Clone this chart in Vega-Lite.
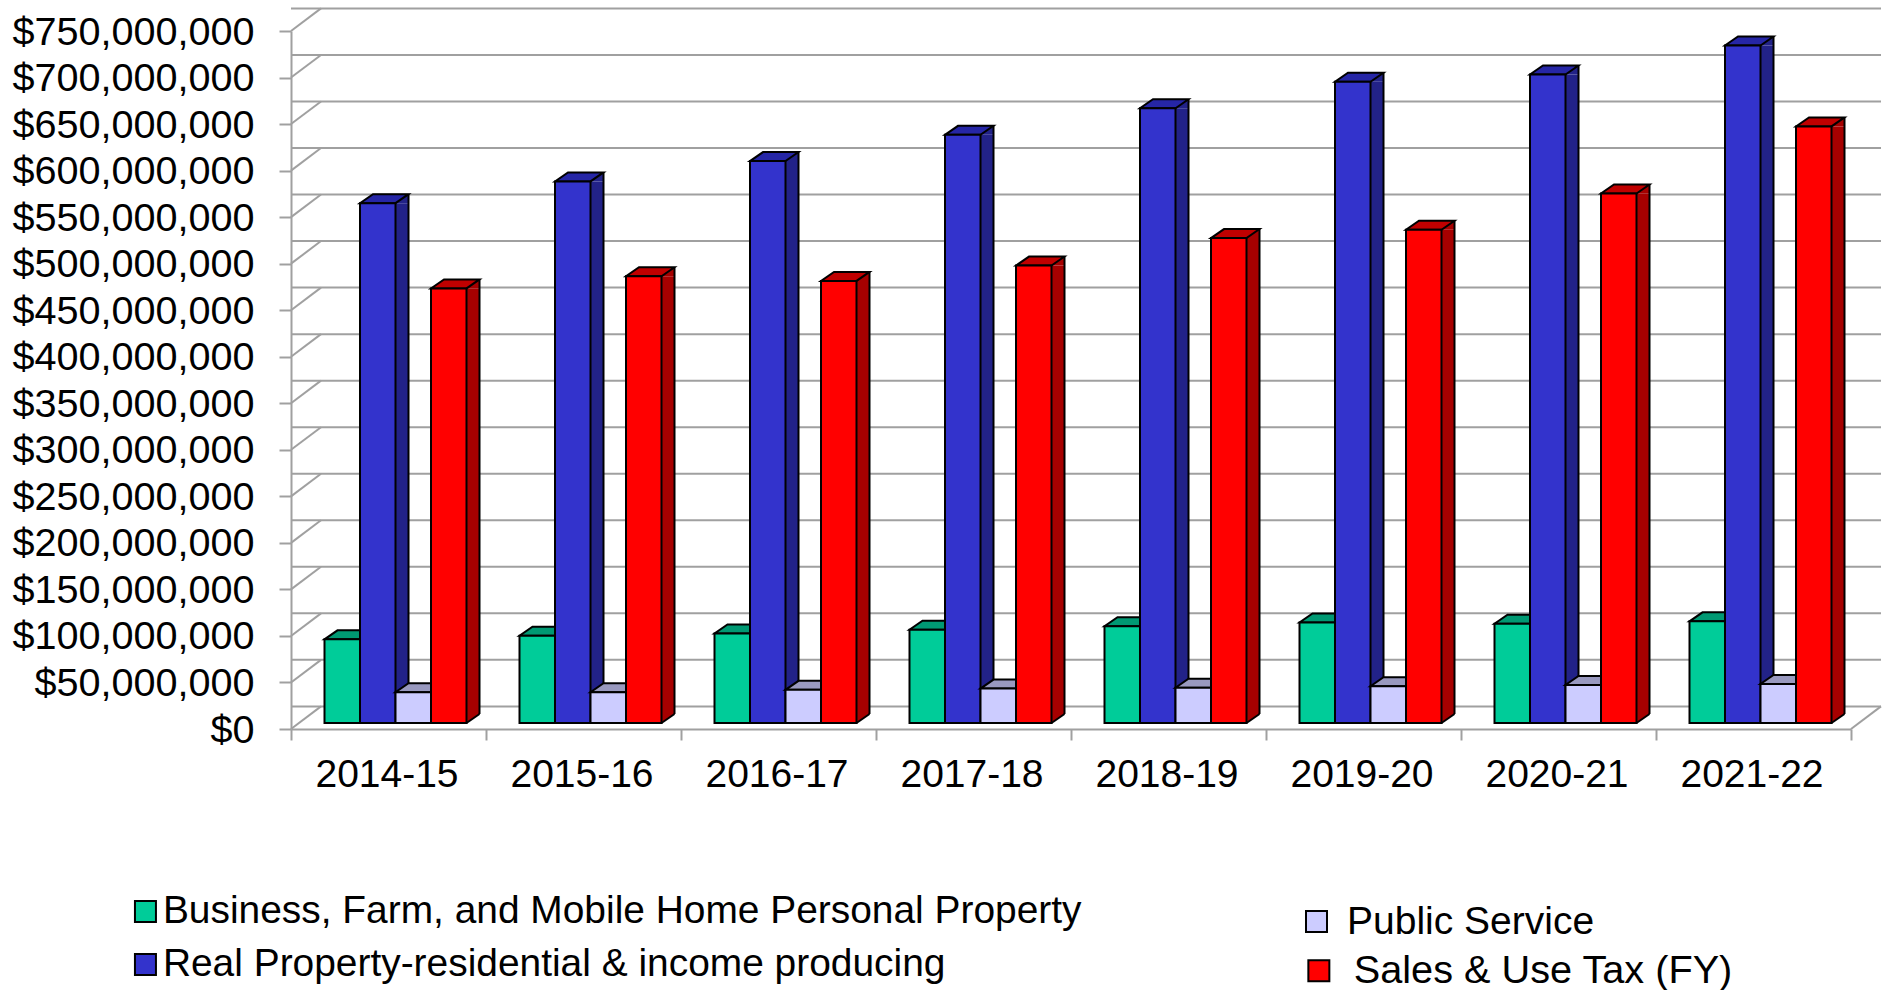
{
"$schema":"https://vega.github.io/schema/vega-lite/v6.json",
"width":1560,"height":698,
"autosize":{"type":"none"},
"padding":{"left":291,"top":31,"right":34,"bottom":261},
"background":"white",
"config":{"view":{"stroke":null},"font":"Liberation Sans"},
"datasets":{
"ticks":[{"tick":0},{"tick":50000000},{"tick":100000000},{"tick":150000000},{"tick":200000000},{"tick":250000000},{"tick":300000000},{"tick":350000000},{"tick":400000000},{"tick":450000000},{"tick":500000000},{"tick":550000000},{"tick":600000000},{"tick":650000000},{"tick":700000000},{"tick":750000000}],
"bars":[
{"year":"2014-15","series":"Business, Farm, and Mobile Home Personal Property","value":89900000},
{"year":"2015-16","series":"Business, Farm, and Mobile Home Personal Property","value":93700000},
{"year":"2016-17","series":"Business, Farm, and Mobile Home Personal Property","value":96300000},
{"year":"2017-18","series":"Business, Farm, and Mobile Home Personal Property","value":100200000},
{"year":"2018-19","series":"Business, Farm, and Mobile Home Personal Property","value":104000000},
{"year":"2019-20","series":"Business, Farm, and Mobile Home Personal Property","value":108000000},
{"year":"2020-21","series":"Business, Farm, and Mobile Home Personal Property","value":106700000},
{"year":"2021-22","series":"Business, Farm, and Mobile Home Personal Property","value":109200000},
{"year":"2014-15","series":"Real Property-residential & income producing","value":558600000},
{"year":"2015-16","series":"Real Property-residential & income producing","value":581900000},
{"year":"2016-17","series":"Real Property-residential & income producing","value":603800000},
{"year":"2017-18","series":"Real Property-residential & income producing","value":632000000},
{"year":"2018-19","series":"Real Property-residential & income producing","value":660600000},
{"year":"2019-20","series":"Real Property-residential & income producing","value":689000000},
{"year":"2020-21","series":"Real Property-residential & income producing","value":696800000},
{"year":"2021-22","series":"Real Property-residential & income producing","value":728000000},
{"year":"2014-15","series":"Public Service","value":33000000},
{"year":"2015-16","series":"Public Service","value":33000000},
{"year":"2016-17","series":"Public Service","value":35600000},
{"year":"2017-18","series":"Public Service","value":37000000},
{"year":"2018-19","series":"Public Service","value":38000000},
{"year":"2019-20","series":"Public Service","value":39500000},
{"year":"2020-21","series":"Public Service","value":40800000},
{"year":"2021-22","series":"Public Service","value":42000000},
{"year":"2014-15","series":"Sales & Use Tax (FY)","value":467000000},
{"year":"2015-16","series":"Sales & Use Tax (FY)","value":480000000},
{"year":"2016-17","series":"Sales & Use Tax (FY)","value":475000000},
{"year":"2017-18","series":"Sales & Use Tax (FY)","value":491500000},
{"year":"2018-19","series":"Sales & Use Tax (FY)","value":521000000},
{"year":"2019-20","series":"Sales & Use Tax (FY)","value":530000000},
{"year":"2020-21","series":"Sales & Use Tax (FY)","value":569000000},
{"year":"2021-22","series":"Sales & Use Tax (FY)","value":641000000}
]},
"resolve":{"scale":{"color":"independent"}},
"layer":[
{"data":{"name":"ticks"},
 "mark":{"type":"rule","color":"#A0A0A0","strokeWidth":2,"xOffset":30,"x2Offset":30,"yOffset":-22.6},
 "encoding":{"y":{"field":"tick","type":"quantitative","scale":{"domain":[0,750000000],"nice":false},
   "axis":{"title":null,"values":[0,50000000,100000000,150000000,200000000,250000000,300000000,350000000,400000000,450000000,500000000,550000000,600000000,650000000,700000000,750000000],"format":"$,.0f","grid":false,"labelFont":"Liberation Sans","labelFontSize":39.6,"labelColor":"#000000","labelLimit":400,"labelPadding":25,"labelOffset":1,"labelOverlap":false,"labelBound":false,"labelFlush":false,"tickSize":12,"tickColor":"#A0A0A0","tickWidth":2,"domainColor":"#A0A0A0","domainWidth":2}}}},
{"data":{"name":"ticks"},
 "mark":{"type":"point","shape":"M-97.5,0 L-67.5,-22.6","size":4,"filled":false,"fill":null,"stroke":"#A0A0A0","strokeWidth":2,"opacity":1},
 "encoding":{"x":{"datum":"2014-15","type":"nominal","scale":{"paddingInner":0,"paddingOuter":0},
   "axis":{"title":null,"labelAngle":0,"grid":false,"tickBand":"extent","tickOffset":-1.5,"labelOffset":-2,"labelFont":"Liberation Sans","labelFontSize":39,"labelColor":"#000000","labelPadding":15,"tickSize":11,"tickColor":"#A0A0A0","tickWidth":2,"domainColor":"#A0A0A0","domainWidth":2}},
  "y":{"field":"tick","type":"quantitative","title":null,"scale":{"domain":[0,750000000],"nice":false}}}},
{"data":{"values":[{"tick":0}]},
 "mark":{"type":"point","shape":"M97.5,0 L127.5,-22.6","size":4,"filled":false,"fill":null,"stroke":"#A0A0A0","strokeWidth":2,"opacity":1},
 "encoding":{"x":{"datum":"2021-22","type":"nominal","title":null},
  "y":{"field":"tick","type":"quantitative","title":null,"scale":{"domain":[0,750000000],"nice":false}}}},
{"data":{"name":"bars"},
 "transform":[{"filter":"datum.series === 'Business, Farm, and Mobile Home Personal Property'"}],
 "encoding":{
  "x":{"field":"year","type":"nominal","title":null},
  "y":{"field":"value","type":"quantitative","title":null,"scale":{"domain":[0,750000000],"nice":false}}},
 "layer":[
  {"mark":{"type":"point","shape":"M-17.75,0 L17.75,0 L30.75,-9 L-4.75,-9 Z","size":4,"filled":true,"fill":"#009973","stroke":"#000000","strokeWidth":2,"opacity":1,"xOffset":-46.25,"yOffset":-6}},
  {"mark":{"type":"bar","size":35.5,"stroke":"#000000","strokeWidth":2,"xOffset":-46.25,"yOffset":-6,"y2Offset":-6},
   "encoding":{"y2":{"datum":0},
    "color":{"field":"series","type":"nominal","scale":{"domain":["Business, Farm, and Mobile Home Personal Property"],"range":["#00CC99"]},
     "legend":{"title":null,"orient":"none","legendX":-165,"legendY":861,"padding":0,"symbolType":"square","symbolSize":441,"symbolStrokeColor":"#000000","symbolStrokeWidth":2,"labelFont":"Liberation Sans","labelFontSize":38.9,"labelColor":"#000000","labelLimit":2000,"labelOffset":-2}}}}
 ]},
{"data":{"name":"bars"},
 "transform":[{"filter":"datum.series === 'Real Property-residential & income producing'"}],
 "encoding":{
  "x":{"field":"year","type":"nominal","title":null},
  "y":{"field":"value","type":"quantitative","title":null,"scale":{"domain":[0,750000000],"nice":false}}},
 "layer":[
  {"mark":{"type":"bar","size":13,"fill":"#222288","xOffset":13.5,"yOffset":-6,"y2Offset":-15},"encoding":{"y2":{"datum":0}}},
  {"mark":{"type":"point","shape":"M17.75,0 L30.75,-9 L30.75,0 Z","size":4,"filled":true,"fill":"#222288","strokeWidth":0,"opacity":1,"xOffset":-10.75,"yOffset":-6}},
  {"mark":{"type":"rule","color":"#000000","strokeWidth":2,"xOffset":20,"yOffset":-15,"y2Offset":-15},"encoding":{"y2":{"datum":0}}},
  {"mark":{"type":"point","shape":"M-17.75,0 L17.75,0 L30.75,-9 L-4.75,-9 Z","size":4,"filled":true,"fill":"#2626A6","stroke":"#000000","strokeWidth":2,"opacity":1,"xOffset":-10.75,"yOffset":-6}},
  {"mark":{"type":"bar","size":35.5,"stroke":"#000000","strokeWidth":2,"xOffset":-10.75,"yOffset":-6,"y2Offset":-6},
   "encoding":{"y2":{"datum":0},
    "color":{"field":"series","type":"nominal","scale":{"domain":["Real Property-residential & income producing"],"range":["#3333CC"]},
     "legend":{"title":null,"orient":"none","legendX":-165,"legendY":914,"padding":0,"symbolType":"square","symbolSize":441,"symbolStrokeColor":"#000000","symbolStrokeWidth":2,"labelFont":"Liberation Sans","labelFontSize":38.9,"labelColor":"#000000","labelLimit":2000,"labelOffset":-2}}}}
 ]},
{"data":{"name":"bars"},
 "transform":[{"filter":"datum.series === 'Public Service'"}],
 "encoding":{
  "x":{"field":"year","type":"nominal","title":null},
  "y":{"field":"value","type":"quantitative","title":null,"scale":{"domain":[0,750000000],"nice":false}}},
 "layer":[
  {"mark":{"type":"point","shape":"M-17.75,0 L17.75,0 L30.75,-9 L-4.75,-9 Z","size":4,"filled":true,"fill":"#9999BF","stroke":"#000000","strokeWidth":2,"opacity":1,"xOffset":24.75,"yOffset":-6}},
  {"mark":{"type":"bar","size":35.5,"stroke":"#000000","strokeWidth":2,"xOffset":24.75,"yOffset":-6,"y2Offset":-6},
   "encoding":{"y2":{"datum":0},
    "color":{"field":"series","type":"nominal","scale":{"domain":["Public Service"],"range":["#CCCCFF"]},
     "legend":{"title":null,"orient":"none","legendX":1006,"legendY":871,"padding":0,"symbolType":"square","symbolSize":441,"symbolStrokeColor":"#000000","symbolStrokeWidth":2,"labelFont":"Liberation Sans","labelFontSize":39,"labelColor":"#000000","labelLimit":2000,"labelOffset":11}}}}
 ]},
{"data":{"name":"bars"},
 "transform":[{"filter":"datum.series === 'Sales & Use Tax (FY)'"}],
 "encoding":{
  "x":{"field":"year","type":"nominal","title":null},
  "y":{"field":"value","type":"quantitative","title":null,"scale":{"domain":[0,750000000],"nice":false}}},
 "layer":[
  {"mark":{"type":"bar","size":13,"fill":"#A60000","xOffset":84.5,"yOffset":-6,"y2Offset":-15},"encoding":{"y2":{"datum":0}}},
  {"mark":{"type":"point","shape":"M17.75,0 L30.75,-9 L30.75,0 Z","size":4,"filled":true,"fill":"#A60000","strokeWidth":0,"opacity":1,"xOffset":60.25,"yOffset":-6}},
  {"mark":{"type":"point","shape":"M17.75,0 L30.75,-9 L17.75,-9 Z","size":4,"filled":true,"fill":"#A60000","strokeWidth":0,"opacity":1,"xOffset":60.25,"yOffset":-6},"encoding":{"y":{"datum":0}}},
  {"mark":{"type":"point","shape":"M17.75,0 L30.75,-9","size":4,"filled":false,"fill":null,"stroke":"#000000","strokeWidth":2,"opacity":1,"xOffset":60.25,"yOffset":-6},"encoding":{"y":{"datum":0}}},
  {"mark":{"type":"rule","color":"#000000","strokeWidth":2,"xOffset":91,"yOffset":-15,"y2Offset":-15},"encoding":{"y2":{"datum":0}}},
  {"mark":{"type":"point","shape":"M-17.75,0 L17.75,0 L30.75,-9 L-4.75,-9 Z","size":4,"filled":true,"fill":"#C00000","stroke":"#000000","strokeWidth":2,"opacity":1,"xOffset":60.25,"yOffset":-6}},
  {"mark":{"type":"bar","size":35.5,"stroke":"#000000","strokeWidth":2,"xOffset":60.25,"yOffset":-6,"y2Offset":-6},
   "encoding":{"y2":{"datum":0},
    "color":{"field":"series","type":"nominal","scale":{"domain":["Sales & Use Tax (FY)"],"range":["#FF0000"]},
     "legend":{"title":null,"orient":"none","legendX":1008,"legendY":920,"padding":0,"symbolType":"square","symbolSize":441,"symbolStrokeColor":"#000000","symbolStrokeWidth":2,"labelFont":"Liberation Sans","labelFontSize":39.7,"labelColor":"#000000","labelLimit":2000,"labelOffset":15}}}}
 ]}
]
}
